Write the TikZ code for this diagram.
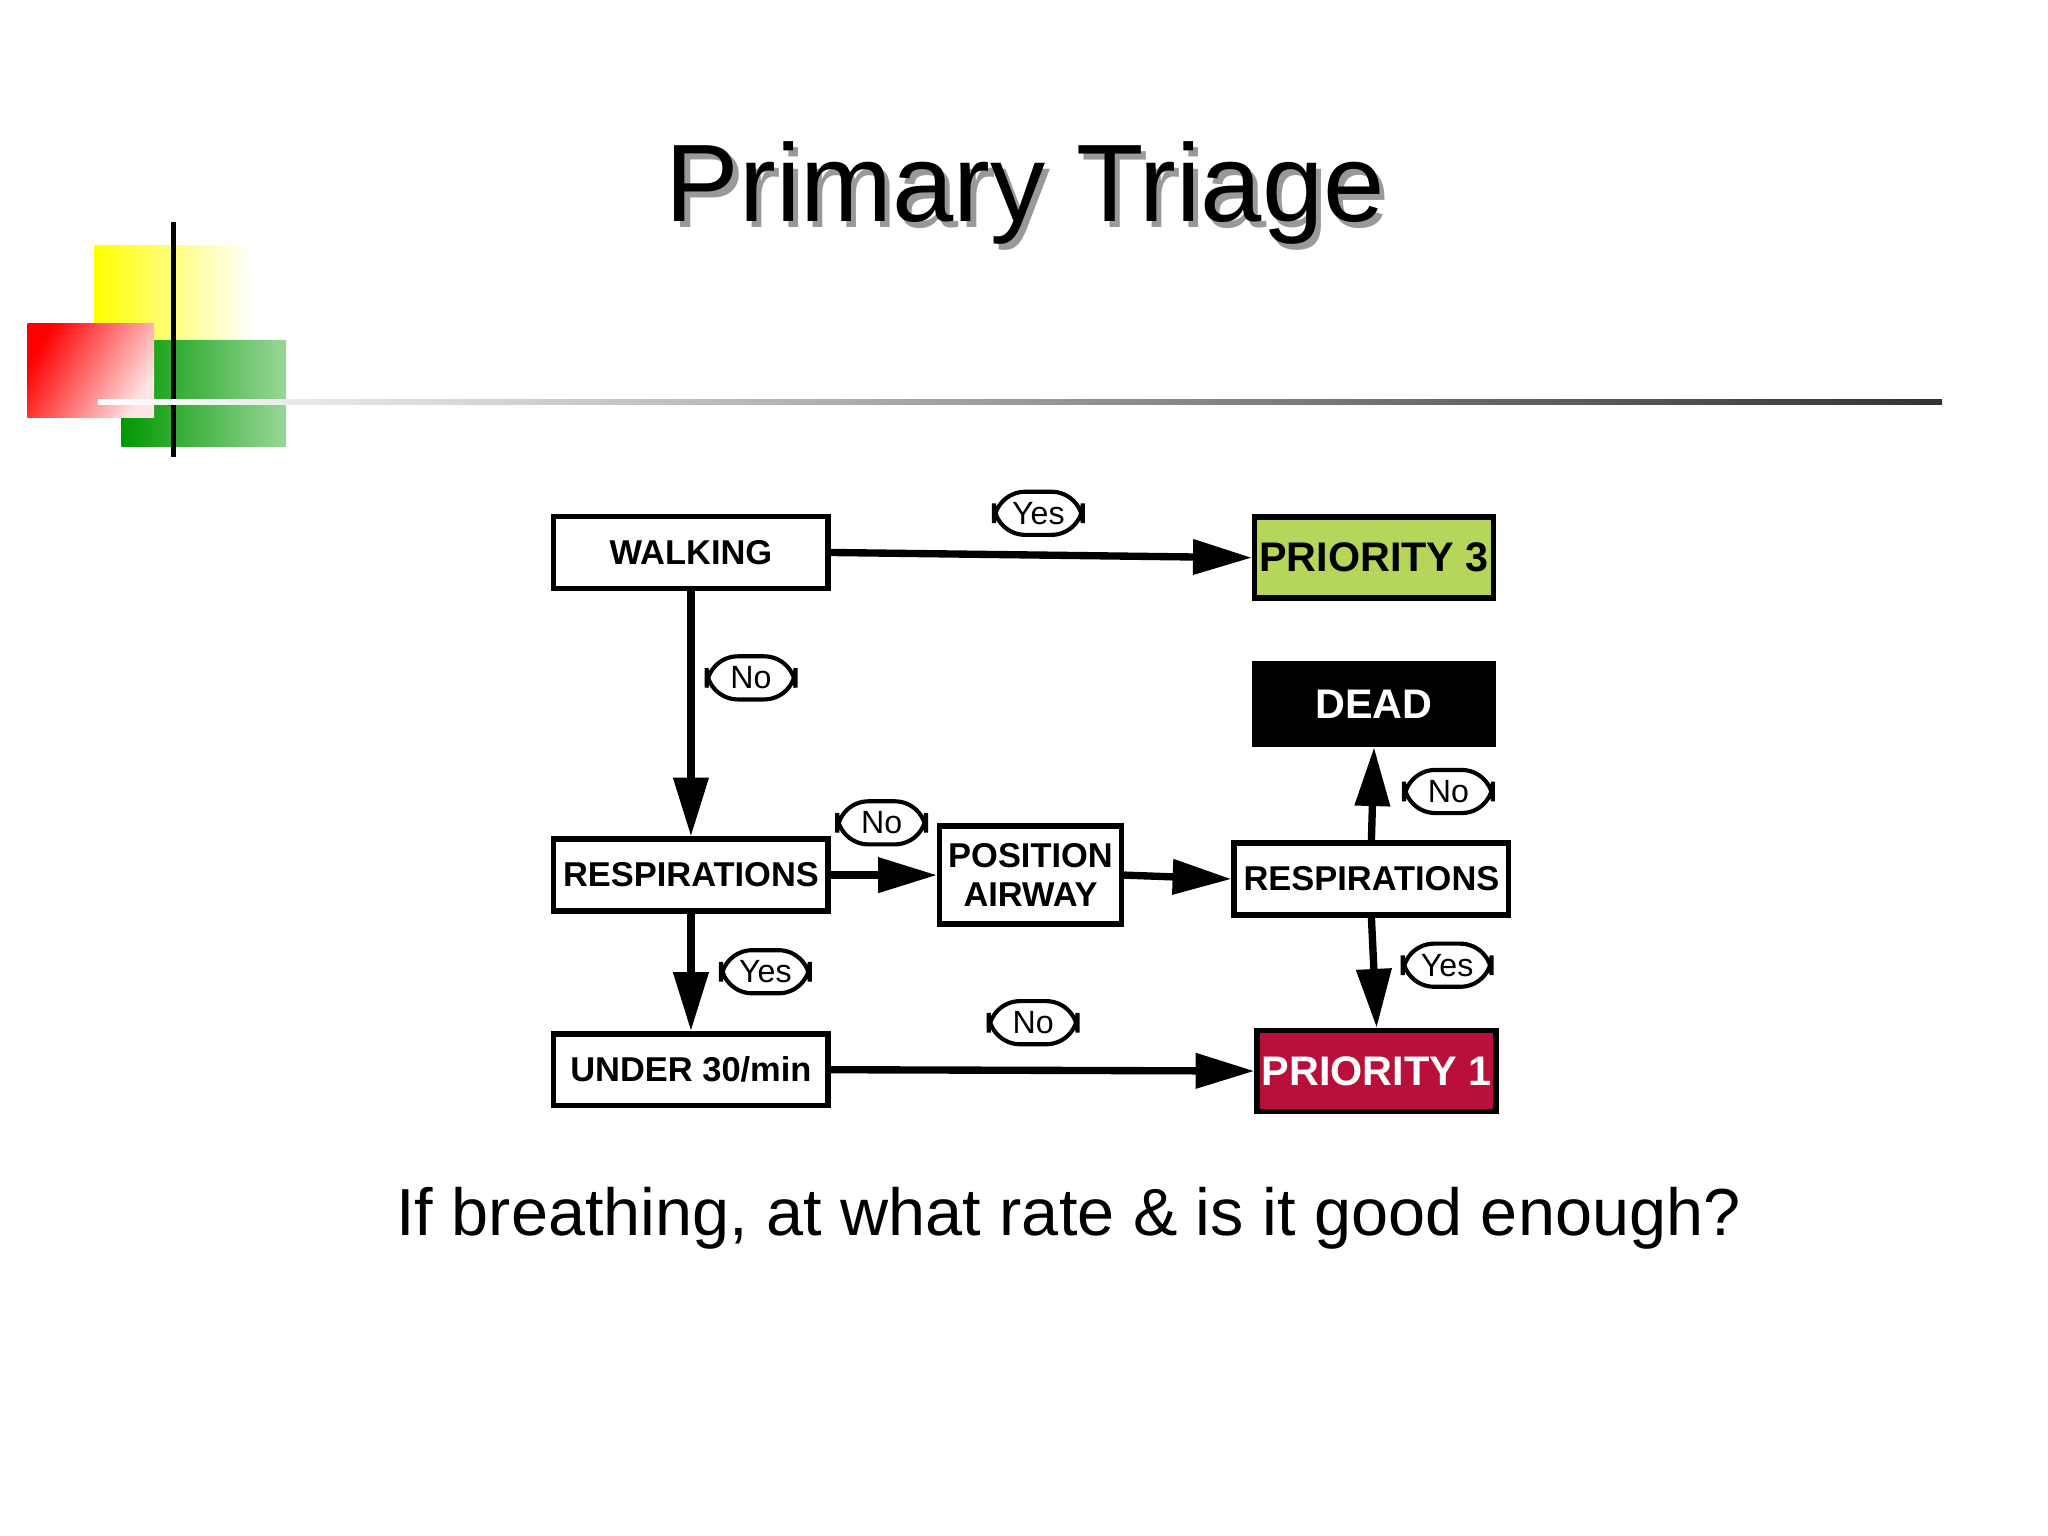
\documentclass[tikz,border=0pt]{standalone}
\usepackage{fontspec}
\setmainfont{Liberation Sans}
\usetikzlibrary{arrows.meta,shadings}
\begin{document}
\begin{tikzpicture}[x=0.01cm,y=-0.01cm,
 box/.style={draw,line width=1.2pt,minimum width=2.1cm,minimum height=0.55cm,font=\fontsize{7.5}{9}\selectfont\bfseries,align=center,inner sep=1pt},
 lab/.style={draw,rounded corners=2.4mm,line width=0.9pt,minimum width=0.68cm,minimum height=0.33cm,inner sep=1pt,font=\fontsize{7}{8}\selectfont},
 arr/.style={line width=1.6pt,-{Triangle[length=4.5mm,width=2.6mm]}}]
\useasboundingbox (0,0) rectangle (1568,1176);
\fill[white] (0,0) rectangle (1568,1176);
% logo
\shade[left color=yellow,right color=white] (72,188) rectangle (193,262);
\shade[left color=green!60!black,right color=green!60!black!40] (93,261) rectangle (219,342);
\shade[left color=red,right color=red!10,shading angle=60] (21,248) rectangle (118,320);
\draw[line width=1.2pt] (133,170) -- (133,350);
\shade[left color=white,right color=black!80] (75,306) rectangle (1487,310);
\node[text=black!40] at (789,152) {\fontsize{24}{28}\selectfont Primary Triage};
\node at (785,148) {\fontsize{24}{28}\selectfont Primary Triage};
% boxes
\node[box] (walk) at (529,423) {WALKING};
\node[box,fill={rgb,255:red,181;green,214;blue,90},minimum width=1.82cm,minimum height=0.62cm,font=\fontsize{9}{10}\selectfont\bfseries] (p3) at (1052,427) {PRIORITY 3};
\node[box,fill=black,text=white,minimum width=1.82cm,minimum height=0.62cm,font=\fontsize{9}{10}\selectfont\bfseries] (dead) at (1052,539) {DEAD};
\node[box] (resp1) at (529,670) {RESPIRATIONS};
\node[box,minimum width=1.39cm,minimum height=0.75cm,font=\fontsize{7.5}{8.5}\selectfont\bfseries] (pos) at (789,670) {POSITION\\AIRWAY};
\node[box] (resp2) at (1050,673) {RESPIRATIONS};
\node[box] (under) at (529,819) {UNDER 30/min};
\node[box,fill={rgb,255:red,184;green,16;blue,58},text=white,minimum width=1.82cm,minimum height=0.62cm,font=\fontsize{9}{10}\selectfont\bfseries] (p1) at (1054,820) {PRIORITY 1};
% arrows
\draw[arr] (walk.east) -- (p3.west);
\draw[arr] (walk.south) -- (resp1.north);
\draw[arr] (resp1.east) -- (pos.west);
\draw[arr] (pos.east) -- (resp2.west);
\draw[arr] (resp1.south) -- (under.north);
\draw[arr] (resp2.north) -- (dead.south);
\draw[arr] (resp2.south) -- (p1.north);
\draw[arr] (under.east) -- (p1.west);
% labels
\node[lab] (l1) at (795,393) {Yes};
\node[lab] (l2) at (575,519) {No};
\node[lab] (l3) at (675,630) {No};
\node[lab] (l4) at (1109,606) {No};
\node[lab] (l5) at (586,744) {Yes};
\node[lab] (l6) at (1108,739) {Yes};
\node[lab] (l7) at (791,783) {No};
\node (q) at (818,933) {\fontsize{14.5}{17}\selectfont If breathing, at what rate \& is it good enough?};
\end{tikzpicture}
\end{document}
